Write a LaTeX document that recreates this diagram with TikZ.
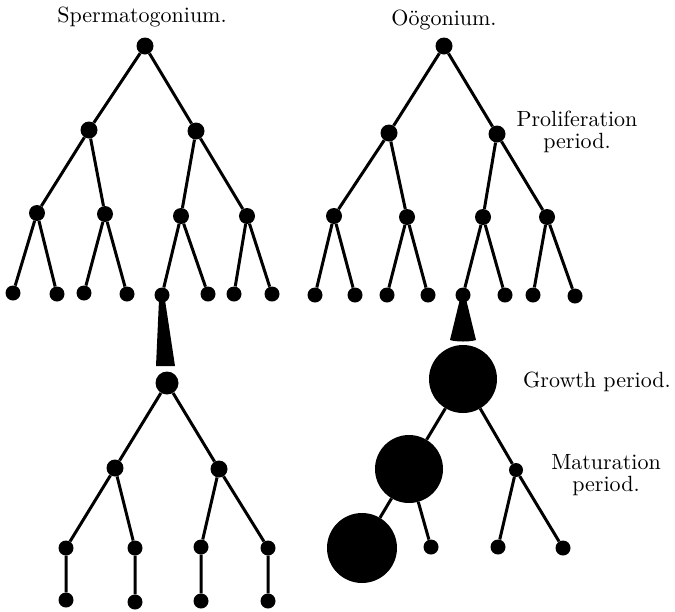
\documentclass[tikz,border=0pt]{standalone}
\usepackage{fontspec}
\setmainfont{lmroman10-regular}[Extension=.otf]
\begin{document}
\begin{tikzpicture}[x=1pt,y=-1pt,
  dot/.style={circle,fill=black,draw=none,inner sep=0pt,minimum size=#1},
  dot/.default=16pt,
  edge/.style={line width=3pt,black},
  wedge/.style={fill=black,draw=none},
  lbl/.style={font=\fontsize{22}{22}\selectfont,inner sep=0pt,text=black}]
\useasboundingbox[fill=white] (0,0) rectangle (675,611);

% ---------- Spermatogonium tree ----------
\node[dot=17pt] (s0) at (145,46) {};
\node[dot=17pt] (s1) at (89,130) {};
\node[dot=17pt] (s2) at (196,131) {};
\node[dot=16pt] (s3) at (37,213) {};
\node[dot=16pt] (s4) at (105,214) {};
\node[dot=16pt] (s5) at (181,216) {};
\node[dot=16pt] (s6) at (247,216) {};
\node[dot=15pt] (s7) at (13,293) {};
\node[dot=15pt] (s8) at (57,294) {};
\node[dot=15pt] (s9) at (84,293) {};
\node[dot=15pt] (s10) at (127,294) {};
\node[dot=15pt] (s11) at (162,295) {};
\node[dot=15pt] (s12) at (208,294) {};
\node[dot=15pt] (s13) at (234,294) {};
\node[dot=15pt] (s14) at (272,294) {};
\draw[edge] (s0)--(s1) (s0)--(s2) (s1)--(s3) (s1)--(s4) (s2)--(s5) (s2)--(s6)
  (s3)--(s7) (s3)--(s8) (s4)--(s9) (s4)--(s10) (s5)--(s11) (s5)--(s12)
  (s6)--(s13) (s6)--(s14);

% wedge (growth) left
\coordinate (lw) at (162,300);
\fill[wedge] ([xshift=-3pt]lw) -- ([xshift=3pt]lw) -- (175,366) -- (156,366) -- cycle;

% ---------- lower left tree ----------
\node[dot=23pt] (b0) at (167,383) {};
\node[dot=17pt] (b1) at (115,468) {};
\node[dot=17pt] (b2) at (219,469) {};
\node[dot=15pt] (b3) at (66,548) {};
\node[dot=15pt] (b4) at (135,548) {};
\node[dot=15pt] (b5) at (201,547) {};
\node[dot=15pt] (b6) at (268,548) {};
\node[dot=15pt] (b7) at (66,600) {};
\node[dot=15pt] (b8) at (135,602) {};
\node[dot=15pt] (b9) at (201,601) {};
\node[dot=15pt] (b10) at (268,601) {};
\draw[edge] (b0)--(b1) (b0)--(b2) (b1)--(b3) (b1)--(b4) (b2)--(b5) (b2)--(b6)
  (b3)--(b7) (b4)--(b8) (b5)--(b9) (b6)--(b10);

% ---------- Oogonium tree ----------
\node[dot=17pt] (o0) at (444,46) {};
\node[dot=17pt] (o1) at (389,133) {};
\node[dot=17pt] (o2) at (497,134) {};
\node[dot=16pt] (o3) at (334,216) {};
\node[dot=16pt] (o4) at (407,217) {};
\node[dot=16pt] (o5) at (483,217) {};
\node[dot=16pt] (o6) at (547,217) {};
\node[dot=15pt] (o7) at (315,295) {};
\node[dot=15pt] (o8) at (355,295) {};
\node[dot=15pt] (o9) at (387,295) {};
\node[dot=15pt] (o10) at (428,295) {};
\node[dot=15pt] (o11) at (463,295) {};
\node[dot=15pt] (o12) at (505,295) {};
\node[dot=15pt] (o13) at (533,295) {};
\node[dot=15pt] (o14) at (575,296) {};
\draw[edge] (o0)--(o1) (o0)--(o2) (o1)--(o3) (o1)--(o4) (o2)--(o5) (o2)--(o6)
  (o3)--(o7) (o3)--(o8) (o4)--(o9) (o4)--(o10) (o5)--(o11) (o5)--(o12)
  (o6)--(o13) (o6)--(o14);

% wedge right
\coordinate (rw) at (463,301);
\fill[wedge] ([xshift=-3.5pt]rw) -- ([xshift=3.5pt]rw) -- (476,340)
  .. controls (470,342) and (456,342) .. (450,340) -- cycle;

% ---------- lower right (growth / maturation) ----------
\node[dot=68pt] (g0) at (463,379) {};
\node[dot=68pt] (g1) at (409,469) {};
\node[dot=70pt] (g2) at (362,548) {};
\node[dot=14pt] (g3) at (516,470) {};
\node[dot=15pt] (g4) at (431,547) {};
\node[dot=15pt] (g5) at (498,547) {};
\node[dot=15pt] (g6) at (563,548) {};
\draw[edge] (g0)--(g1) (g0)--(g3) (g1)--(g2) (g1)--(g4) (g3)--(g5) (g3)--(g6);

% ---------- labels ----------
\node[lbl,anchor=base] (tsperm) at (142,22) {Spermatogonium.};
\node[lbl,anchor=base] (toog) at (444,25) {Oögonium.};
\node[lbl,anchor=north,align=center] (tprol) at (577,111) {Proliferation\\[0pt]period.};
\node[lbl,anchor=base west] (tgrow) at (523,387) {Growth period.};
\node[lbl,anchor=north,align=center] (tmat) at (606,454) {Maturation\\[0pt]period.};
\end{tikzpicture}
\end{document}
